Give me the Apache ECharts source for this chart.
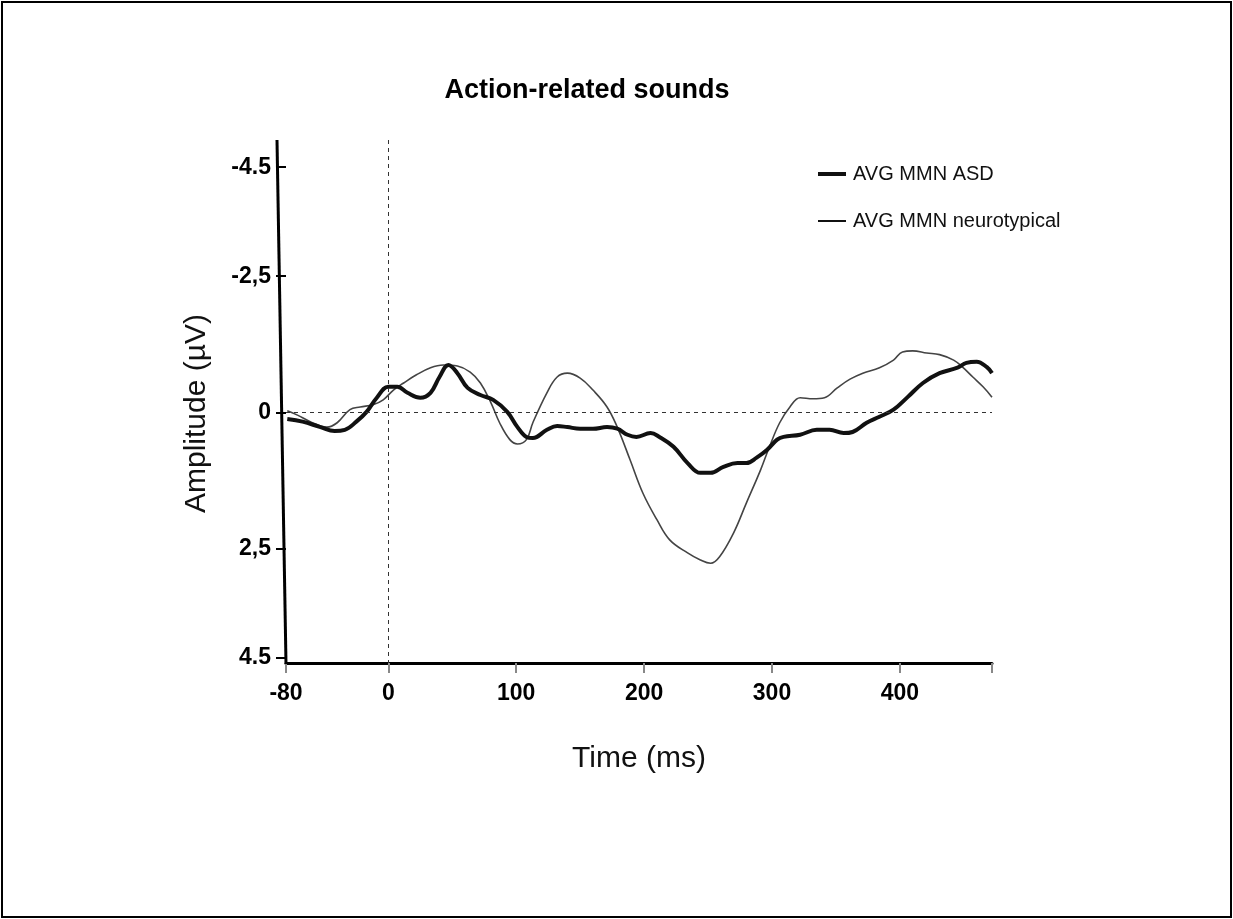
<!DOCTYPE html>
<html>
<head>
<meta charset="utf-8">
<title>Action-related sounds</title>
<script src="https://cdn.jsdelivr.net/npm/echarts@6/dist/echarts.min.js"></script>
<style>
  html, body { margin: 0; padding: 0; background: #fff; }
  #chart { width: 1233px; height: 919px; }
</style>
</head>
<body>
<div id="chart"></div>
<script>
// ASD grand average (thick trace)
const asdTime = [-79, -67, -53, -42, -34, -25, -17, -9, 0, 7, 15, 25, 33, 40, 47, 54, 62, 72, 82, 93, 101,
  108, 113, 124, 132, 140, 150, 160, 171, 179, 187, 194, 205, 212, 223, 234, 244, 252, 262, 273, 280,
  288, 296, 304, 309, 322, 335, 345, 356, 363, 374, 384, 395, 406, 418, 431, 445, 452, 460, 468, 472]
const asdAmp = [0.12, 0.17, 0.27, 0.34, 0.32, 0.17, -0.01, -0.27, -0.47, -0.47, -0.36, -0.27, -0.36, -0.65, -0.87, -0.72, -0.45, -0.32, -0.23, -0.01, 0.27,
  0.45, 0.47, 0.32, 0.25, 0.27, 0.30, 0.30, 0.27, 0.30, 0.41, 0.45, 0.38, 0.45, 0.63, 0.93, 1.11, 1.11, 1.00, 0.93, 0.93,
  0.83, 0.69, 0.50, 0.45, 0.41, 0.32, 0.32, 0.38, 0.36, 0.19, 0.08, -0.05, -0.28, -0.54, -0.72, -0.82, -0.91, -0.93, -0.83, -0.72]

// neurotypical grand average (thin trace)
const ntTime = [-79, -71, -61, -48, -40, -30, -22, -12, -4, 4, 12, 22, 33, 43, 54, 64, 72, 80, 87, 95, 101,
  108, 113, 124, 132, 140, 150, 160, 171, 179, 189, 199, 210, 220, 234, 244, 252, 259, 270, 280, 291,
  298, 306, 314, 322, 332, 341, 351, 361, 371, 384, 395, 402, 410, 421, 431, 442, 449, 457, 465, 472]
const ntAmp = [-0.03, 0.05, 0.17, 0.27, 0.19, -0.05, -0.10, -0.14, -0.23, -0.41, -0.54, -0.69, -0.82, -0.87, -0.85, -0.74, -0.54, -0.19, 0.19, 0.50, 0.58,
  0.50, 0.19, -0.36, -0.65, -0.72, -0.63, -0.41, -0.10, 0.27, 0.87, 1.48, 1.97, 2.34, 2.58, 2.71, 2.77, 2.65, 2.21, 1.66, 1.06,
  0.63, 0.19, -0.10, -0.27, -0.25, -0.27, -0.45, -0.61, -0.72, -0.82, -0.96, -1.11, -1.13, -1.09, -1.06, -0.96, -0.83, -0.65, -0.47, -0.28]

const seriesNames = ['AVG MMN ASD', 'AVG MMN neurotypical']
const xTicks = [-80, 0, 100, 200, 300, 400, 472]
const xTickLabels = [-80, 0, 100, 200, 300, 400]
const yTicks = [-4.5, -2.5, 0, 2.5, 4.5]
const yTickText = ['-4.5', '-2,5', '0', '2,5', '4.5']

const pairs = (xs, ys) => xs.map((x, i) => [x, ys[i]])
const FONT = 'Liberation Sans, Arial, sans-serif'

const chart = echarts.init(document.getElementById('chart'))
chart.setOption({
  animation: false,
  backgroundColor: '#fff',
  title: {
    text: 'Action-related sounds',
    left: 582,
    textAlign: 'center',
    top: 72,
    textStyle: { fontFamily: FONT, fontSize: 27, fontWeight: 'bold', color: '#000' },
  },
  legend: {
    // plain bars as keys: thick for ASD, thin for neurotypical
    data: [
      { name: seriesNames[0], icon: 'path://M0 0H28V4H0Z' },
      { name: seriesNames[1], icon: 'path://M0 0H28V2H0Z' },
    ],
    orient: 'vertical',
    left: 818,
    top: 164,
    padding: 0,
    itemWidth: 28,
    itemHeight: 14,
    itemGap: 27,
    textStyle: { fontFamily: FONT, fontSize: 20, color: '#111', padding: [0, 0, 0, 2] },
  },
  grid: { left: 286, right: 241, top: 140, bottom: 256 },
  xAxis: {
    type: 'value',
    min: -80,
    max: 472,
    name: 'Time (ms)',
    nameLocation: 'middle',
    nameGap: 81,
    nameTextStyle: { fontFamily: FONT, fontSize: 30, color: '#111' },
    axisLine: { onZero: false, lineStyle: { color: '#000', width: 3 } },
    axisTick: { customValues: xTicks, length: 10, lineStyle: { color: '#888', width: 2 } },
    axisLabel: {
      customValues: xTickLabels,
      margin: 19,
      fontFamily: FONT,
      fontSize: 23,
      fontWeight: 'bold',
      color: '#000',
    },
    splitLine: { show: false },
  },
  yAxis: {
    type: 'value',
    inverse: true,
    min: -5.0,
    max: 4.6,
    name: 'Amplitude (µV)',
    nameLocation: 'middle',
    nameGap: 74,
    nameTextStyle: { fontFamily: FONT, fontSize: 30, color: '#111', padding: [0, 24, 0, 0] },
    axisLine: { show: false, onZero: false },
    axisTick: { customValues: yTicks, length: 10, lineStyle: { color: '#000', width: 2 } },
    axisLabel: {
      customValues: yTicks,
      margin: 15,
      fontFamily: FONT,
      fontSize: 23,
      fontWeight: 'bold',
      color: '#000',
      formatter: (v) => yTickText[yTicks.indexOf(v)],
    },
    splitLine: { show: false },
  },
  series: [
    {
      name: seriesNames[0],
      type: 'line',
      data: pairs(asdTime, asdAmp),
      smooth: 0.4,
      showSymbol: false,
      symbol: 'none',
      z: 3,
      lineStyle: { color: '#111', width: 4 },
      itemStyle: { color: '#111' },
      markLine: {
        silent: true,
        symbol: 'none',
        label: { show: false },
        lineStyle: { color: '#333', width: 1, type: [4, 4] },
        data: [{ xAxis: 0 }, { yAxis: 0 }],
      },
    },
    {
      name: seriesNames[1],
      type: 'line',
      data: pairs(ntTime, ntAmp),
      smooth: 0.4,
      showSymbol: false,
      symbol: 'none',
      z: 2,
      lineStyle: { color: '#444', width: 1.6 },
      itemStyle: { color: '#111' },
    },
  ],
})

// frame round the figure and the slightly leaning y axis line
const axisFoot = chart.convertToPixel('grid', [-80, 4.6])
const axisHead = chart.convertToPixel('grid', [-80, -5.0])
chart.setOption({
  graphic: [
    {
      type: 'rect',
      shape: { x: 2, y: 2, width: 1229, height: 915 },
      style: { fill: 'none', stroke: '#000', lineWidth: 2 },
      silent: true,
    },
    {
      type: 'line',
      shape: { x1: axisHead[0] - 9, y1: axisHead[1], x2: axisFoot[0], y2: axisFoot[1] + 1 },
      style: { stroke: '#000', lineWidth: 3 },
      silent: true,
      z: 10,
    },
  ],
})
</script>
</body>
</html>
